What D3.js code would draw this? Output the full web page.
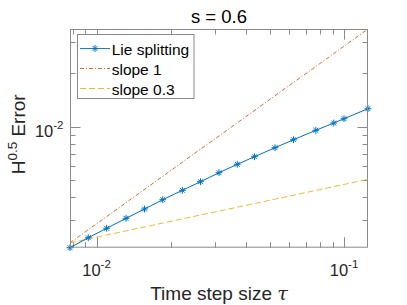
<!DOCTYPE html>
<html>
<head>
<meta charset="utf-8">
<script src="https://cdn.jsdelivr.net/npm/d3@7"></script>
<style>
  html, body { margin: 0; padding: 0; background: #fff; }
  svg { display: block; font-family: "Liberation Sans", Arial, Helvetica, sans-serif; }
</style>
</head>
<body>
<div id="chart"></div>
<script>
// Number of time steps, tau = 1/N
const STEPS = [128, 108, 91, 76, 64, 54, 45, 38, 32, 27, 23, 19, 16, 13, 11, 10, 8]
const ERRORS = [0.002085, 0.002372, 0.002680, 0.003049, 0.003439, 0.003880, 0.004381,
  0.004896, 0.005500, 0.006132, 0.006764, 0.007602, 0.008430, 0.009521, 0.01046,
  0.01106, 0.01259]

// Reference lines, values read at the two ends tau = 1/128 and tau = 1/8
const REF_TAU = [1 / 128, 1 / 8]
const SLOPE_1 = [0.00222, 0.0353]
const SLOPE_03 = [0.00222, 0.00505]

const X_TICKS = [0.01, 0.1]
const Y_TICKS = [0.01]
const LEGEND = ["Lie splitting", "slope 1", "slope 0.3"]

const BLUE = "#0072BD"
const ORANGE = "#D95319"
const YELLOW = "#EDB120"
const AXIS = "#8a8a8a"
const TEXT = "#262626"

const width = 407
const height = 305
const margin = { top: 29, right: 39, bottom: 57.3, left: 70 }

const taus = STEPS.map(n => 1 / n)

const x = d3.scaleLog()
  .domain(d3.extent(taus.concat(REF_TAU)))
  .range([margin.left, width - margin.right])

const y = d3.scaleLog()
  .domain([d3.min(ERRORS.concat(SLOPE_1, SLOPE_03)), d3.max(ERRORS.concat(SLOPE_1, SLOPE_03))])
  .range([height - margin.bottom, margin.top])

const svg = d3.select("#chart")
  .append("svg")
  .attr("width", width)
  .attr("height", height)

const x0 = x.range()[0], x1 = x.range()[1]
const y0 = y.range()[0], y1 = y.range()[1]

// Ticks on all four sides, pointing inward
const MAJOR = 10.5
const MINOR = 5.5
const ticks = svg.append("g").attr("stroke", AXIS).attr("stroke-width", 1)

x.ticks().forEach(t => {
  const len = X_TICKS.some(v => Math.abs(v - t) < 1e-9) ? MAJOR : MINOR
  const px = Math.round(x(t)) + 0.5
  ticks.append("line").attr("x1", px).attr("x2", px).attr("y1", y0).attr("y2", y0 - len)
  ticks.append("line").attr("x1", px).attr("x2", px).attr("y1", y1).attr("y2", y1 + len)
})

y.ticks().forEach(t => {
  const len = Y_TICKS.some(v => Math.abs(v - t) < 1e-9) ? MAJOR : MINOR
  const py = Math.round(y(t)) + 0.5
  ticks.append("line").attr("y1", py).attr("y2", py).attr("x1", x0).attr("x2", x0 + len)
  ticks.append("line").attr("y1", py).attr("y2", py).attr("x1", x1).attr("x2", x1 - len)
})

// Plot lines
const line = d3.line().x(d => x(d[0])).y(d => y(d[1]))

svg.append("path")
  .datum(d3.zip(REF_TAU, SLOPE_1))
  .attr("d", line)
  .attr("fill", "none")
  .attr("stroke", ORANGE)
  .attr("stroke-width", 0.9)
  .attr("stroke-dasharray", "4,2,1,2")

svg.append("path")
  .datum(d3.zip(REF_TAU, SLOPE_03))
  .attr("d", line)
  .attr("fill", "none")
  .attr("stroke", YELLOW)
  .attr("stroke-width", 0.9)
  .attr("stroke-dasharray", "6,3")

svg.append("path")
  .datum(d3.zip(taus, ERRORS))
  .attr("d", line)
  .attr("fill", "none")
  .attr("stroke", BLUE)
  .attr("stroke-width", 1)

// MATLAB style '*' marker: plus and cross on top of each other
const star = r => {
  const d = r * 0.7071
  return `M${-r},0L${r},0M0,${-r}L0,${r}M${-d},${-d}L${d},${d}M${-d},${d}L${d},${-d}`
}

svg.append("g")
  .selectAll("path")
  .data(d3.zip(taus, ERRORS))
  .join("path")
  .attr("transform", d => `translate(${x(d[0])},${y(d[1])})`)
  .attr("d", star(3.4))
  .attr("fill", "none")
  .attr("stroke", BLUE)
  .attr("stroke-width", 1)

// Axes box
svg.append("rect")
  .attr("x", x0 + 0.5)
  .attr("y", y1 + 0.5)
  .attr("width", x1 - x0 - 1)
  .attr("height", y0 - y1 - 1)
  .attr("fill", "none")
  .attr("stroke", AXIS)
  .attr("stroke-width", 1)

// Tick labels as 10^k
const powerLabel = (sel, v) => {
  const k = Math.round(Math.log10(v))
  sel.append("tspan").text("10")
  sel.append("tspan").attr("dy", -8).attr("font-size", 11.5).text(k)
}

X_TICKS.forEach(v => {
  const t = svg.append("text")
    .attr("x", x(v))
    .attr("y", 276)
    .attr("text-anchor", "middle")
    .attr("fill", TEXT)
    .attr("font-size", 16.5)
  powerLabel(t, v)
})

Y_TICKS.forEach(v => {
  const t = svg.append("text")
    .attr("x", x0 - 6.5)
    .attr("y", y(v) + 10.5)
    .attr("text-anchor", "end")
    .attr("fill", TEXT)
    .attr("font-size", 16.5)
  powerLabel(t, v)
})

// Title and axis labels
svg.append("text")
  .attr("x", (x0 + x1) / 2)
  .attr("y", 22.5)
  .attr("text-anchor", "middle")
  .attr("fill", "#000")
  .attr("font-size", 18.5)
  .text("s = 0.6")

const xl = svg.append("text")
  .attr("x", (x0 + x1) / 2)
  .attr("y", 300)
  .attr("text-anchor", "middle")
  .attr("fill", TEXT)
  .attr("font-size", 19)
xl.append("tspan").text("Time step size ")
xl.append("tspan").attr("font-family", "DejaVu Serif").attr("font-style", "italic").text("τ")

const yl = svg.append("text")
  .attr("transform", `translate(24.5,${(y0 + y1) / 2 - 4}) rotate(-90)`)
  .attr("text-anchor", "middle")
  .attr("fill", TEXT)
  .attr("font-size", 19)
yl.append("tspan").text("H")
yl.append("tspan").attr("dy", -8).attr("font-size", 13.5).text("0.5")
yl.append("tspan").attr("dy", 8).text(" Error")

// Legend
const legend = svg.append("g")
legend.append("rect")
  .attr("x", 77.5)
  .attr("y", 34.5)
  .attr("width", 116.5)
  .attr("height", 64)
  .attr("fill", "#fff")
  .attr("stroke", AXIS)
  .attr("stroke-width", 1)

const styles = [
  { color: BLUE, dash: null, marker: true },
  { color: ORANGE, dash: "4,2,1,2", marker: false },
  { color: YELLOW, dash: "6,3", marker: false }
]

LEGEND.forEach((name, i) => {
  const ly = 48.5 + i * 20
  legend.append("line")
    .attr("x1", 80).attr("x2", 110)
    .attr("y1", ly).attr("y2", ly)
    .attr("stroke", styles[i].color)
    .attr("stroke-width", 0.9)
    .attr("stroke-dasharray", styles[i].dash)
  if (styles[i].marker) {
    legend.append("path")
      .attr("transform", `translate(95,${ly})`)
      .attr("d", star(3.4))
      .attr("fill", "none")
      .attr("stroke", styles[i].color)
  }
  legend.append("text")
    .attr("x", 111.7)
    .attr("y", ly + 6)
    .attr("fill", "#000")
    .attr("font-size", 15.5)
    .text(name)
})
</script>
</body>
</html>
